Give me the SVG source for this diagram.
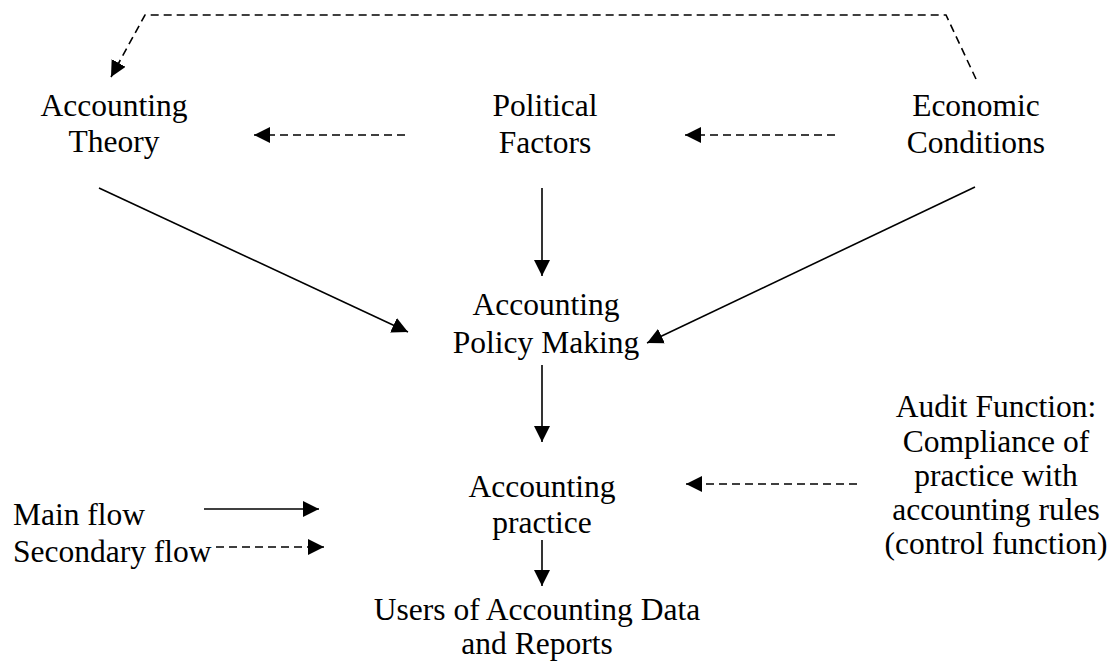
<svg xmlns="http://www.w3.org/2000/svg" width="1119" height="664" viewBox="0 0 1119 664">
<style>
text{font-family:"Liberation Serif","Times New Roman",serif;font-size:31.5px;fill:#000;text-anchor:middle}
.l{text-anchor:start}
.s{fill:none;stroke:#000;stroke-width:1.6}
.d{fill:none;stroke:#000;stroke-width:1.6;stroke-dasharray:8 5}
</style>
<defs>
<marker id="ah" markerUnits="userSpaceOnUse" markerWidth="16" markerHeight="16" viewBox="0 0 16 16" refX="16" refY="8" orient="auto">
<path d="M0,0 L16,8 L0,16 z" fill="#000"/>
</marker>
</defs>
<rect width="1119" height="664" fill="#fff"/>
<g id="theory"><text x="114" y="116">Accounting</text><text x="114" y="152">Theory</text></g>
<g id="political"><text x="545" y="116">Political</text><text x="545" y="153">Factors</text></g>
<g id="economic"><text x="976" y="116">Economic</text><text x="976" y="153">Conditions</text></g>
<g id="policy"><text x="546" y="315">Accounting</text><text x="546" y="353">Policy Making</text></g>
<g id="practice"><text x="542" y="497">Accounting</text><text x="542" y="533">practice</text></g>
<g id="users"><text x="537" y="620">Users of Accounting Data</text><text x="537" y="654">and Reports</text></g>
<g id="audit"><text x="996" y="417">Audit Function:</text><text x="996" y="452">Compliance of</text><text x="996" y="486">practice with</text><text x="996" y="520">accounting rules</text><text x="996" y="554">(control function)</text></g>
<g id="legend">
<text class="l" x="13" y="525">Main flow</text>
<text class="l" x="13" y="562">Secondary flow</text>
<path class="s" d="M204,509 L319,509" marker-end="url(#ah)"/>
<path class="d" d="M216,547 L324,547" marker-end="url(#ah)"/>
</g>
<g id="connectors">
<path class="d" d="M976,79 L946,15 L145,15 L111,77" marker-end="url(#ah)"/>
<path class="d" d="M405,135 L254,135" marker-end="url(#ah)"/>
<path class="d" d="M835,135 L685,135" marker-end="url(#ah)"/>
<path class="d" d="M857,484 L686,484" marker-end="url(#ah)"/>
<path class="s" d="M99,188 L408,332" marker-end="url(#ah)"/>
<path class="s" d="M975,187 L647,343" marker-end="url(#ah)"/>
<path class="s" d="M542,188 L542,276" marker-end="url(#ah)"/>
<path class="s" d="M542,365 L542,442" marker-end="url(#ah)"/>
<path class="s" d="M542,540 L542,586" marker-end="url(#ah)"/>
</g>
</svg>
